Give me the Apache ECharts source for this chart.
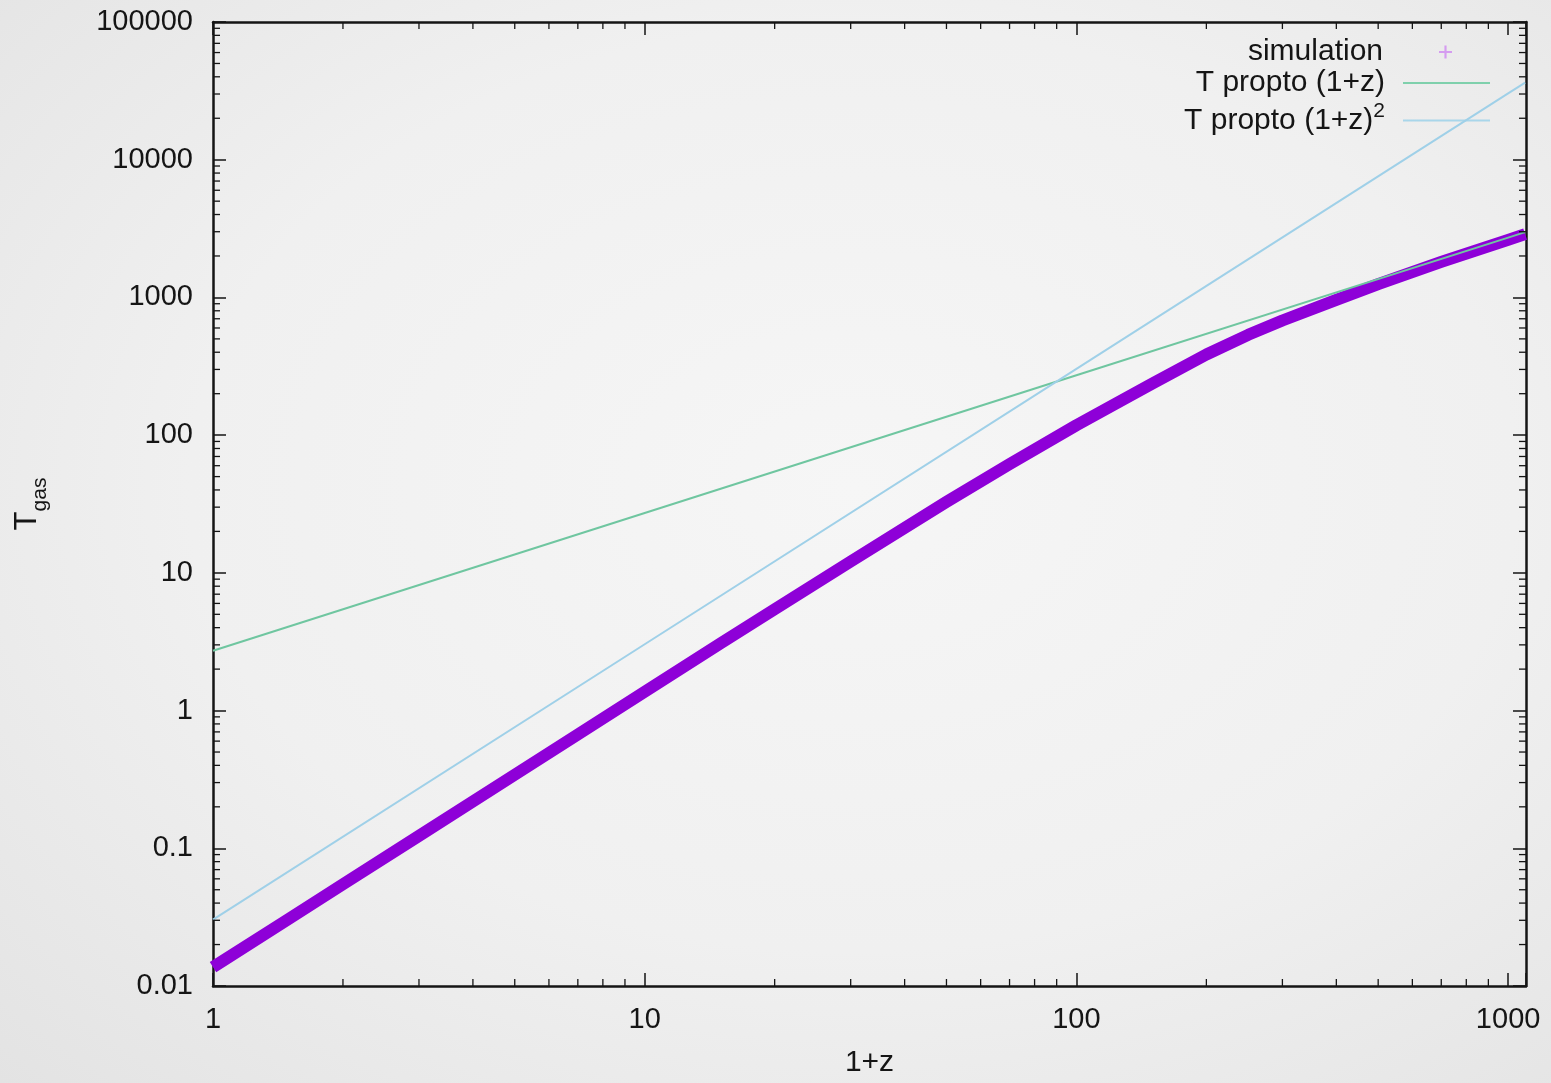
<!DOCTYPE html>
<html>
<head>
<meta charset="utf-8">
<script src="https://cdn.jsdelivr.net/npm/echarts@6/dist/echarts.min.js"></script>
<style>
html,body{margin:0;padding:0;width:1551px;height:1083px;overflow:hidden;}
#c{width:1551px;height:1083px;background:radial-gradient(ellipse at 55% 45%, #f6f6f6 0%, #f0f0f0 55%, #e3e3e3 100%);}
</style>
</head>
<body>
<div id="c"></div>
<script>
// ---- data ----
const simX = [1, 1.5, 2, 3, 5, 7, 10, 15, 20, 30, 50, 70, 100, 125, 150, 200, 250, 300, 400, 500, 700, 1000, 1095];
const simT = [0.0137, 0.0308, 0.0548, 0.123, 0.342, 0.67, 1.37, 3.08, 5.44, 12.1, 32.8, 61.5, 118, 173, 237, 385, 535, 680, 960, 1250, 1810, 2620, 2880];
const linX = [1, 10, 100, 1000, 1095];
const linT = [2.72, 27.2, 272, 2720, 2980];
const quadX = [1, 10, 100, 1000, 1095];
const quadT = [0.0303, 3.03, 303, 30300, 36300];
const xTickLabels = ['1', '10', '100', '1000'];
const yTickLabels = ['0.01', '0.1', '1', '10', '100', '1000', '10000', '100000'];
const xMinorTicks = [2,3,4,5,6,7,8,9,20,30,40,50,60,70,80,90,200,300,400,500,600,700,800,900];
const yMinorTicks = [0.02,0.03,0.04,0.05,0.06,0.07,0.08,0.09,
  0.2,0.3,0.4,0.5,0.6,0.7,0.8,0.9,
  2,3,4,5,6,7,8,9, 20,30,40,50,60,70,80,90,
  200,300,400,500,600,700,800,900, 2000,3000,4000,5000,6000,7000,8000,9000,
  20000,30000,40000,50000,60000,70000,80000,90000];
const seriesNames = ['simulation', 'T propto (1+z)', 'T propto (1+z)2'];

const FONT = 'Liberation Sans, Arial, Helvetica, sans-serif';
const INK = '#151515';
function zip(a, b) { return a.map((v, i) => [v, b[i]]); }
function decadeLabel(labels, offset) {
  return function (v) {
    const e = Math.log10(v);
    const r = Math.round(e);
    if (Math.abs(e - r) > 1e-6) return '';
    return labels[r + offset] || '';
  };
}

const chart = echarts.init(document.getElementById('c'), null, {renderer: 'canvas'});
const axisLineStyle = {show: true, onZero: false, lineStyle: {color: INK, width: 2.5}};
const majorTick = {show: true, inside: true, length: 13, lineStyle: {color: INK, width: 1.5}};

function minorTickSeries(values, isX) {
  return {
    type: 'custom',
    silent: true,
    xAxisIndex: 0, yAxisIndex: 0,
    z: 10,
    clip: false,
    data: values.map(v => isX ? [v, 1] : [1, v]),
    renderItem: function (params, api) {
      const cs = params.coordSys;
      const p = api.coord([api.value(0), api.value(1)]);
      const st = {stroke: INK, lineWidth: 1.3};
      const L = 7;
      if (isX) {
        const x = p[0], yb = cs.y + cs.height, yt = cs.y;
        return {type: 'group', children: [
          {type: 'line', shape: {x1: x, y1: yb, x2: x, y2: yb - L}, style: st},
          {type: 'line', shape: {x1: x, y1: yt, x2: x, y2: yt + L}, style: st}
        ]};
      } else {
        const y = p[1], xl = cs.x, xr = cs.x + cs.width;
        return {type: 'group', children: [
          {type: 'line', shape: {x1: xl, y1: y, x2: xl + L, y2: y}, style: st},
          {type: 'line', shape: {x1: xr, y1: y, x2: xr - L, y2: y}, style: st}
        ]};
      }
    }
  };
}

const legendText = {fontFamily: FONT, fontSize: 30, color: INK};
const plusIcon = 'path://M5,0 L7,0 L7,5 L12,5 L12,7 L7,7 L7,12 L5,12 L5,7 L0,7 L0,5 L5,5 Z';

const option = {
  backgroundColor: 'transparent',
  animation: false,
  grid: {left: 213, right: 25, top: 22, bottom: 95, containLabel: false},
  legend: [
    {
      right: 99, top: 37, orient: 'vertical', align: 'right', padding: 0,
      itemWidth: 13, itemHeight: 13,
      data: [{name: seriesNames[0], icon: plusIcon, itemStyle: {color: '#d59cf0'}}],
      textStyle: Object.assign({padding: [0, 51, 0, 0]}, legendText),
      selectedMode: false
    },
    {
      right: 61, top: 68, orient: 'vertical', align: 'right', padding: 0,
      itemWidth: 87, itemHeight: 14,
      data: [{name: seriesNames[1], icon: 'path://M0,6 L87,6 L87,8 L0,8 Z', itemStyle: {color: '#7fd0ac'}}],
      textStyle: Object.assign({padding: [0, 13, 0, 0]}, legendText),
      selectedMode: false
    },
    {
      right: 61, top: 101, orient: 'vertical', align: 'right', padding: 0,
      itemWidth: 87, itemHeight: 14,
      data: [{name: seriesNames[2], icon: 'path://M0,6 L87,6 L87,8 L0,8 Z', itemStyle: {color: '#a9d6ea'}}],
      formatter: function () { return 'T propto (1+z){sup|2}'; },
      textStyle: Object.assign({padding: [0, 13, 0, 0], rich: {sup: {fontFamily: FONT, fontSize: 21, color: INK, padding: [0, 0, 18, 0]}}}, legendText),
      selectedMode: false
    }
  ],
  xAxis: [
    {
      type: 'log', logBase: 10, min: 1, max: 1100, interval: 1, position: 'bottom',
      axisLine: axisLineStyle, axisTick: majorTick,
      splitLine: {show: false},
      axisLabel: {fontFamily: FONT, fontSize: 29, color: INK, margin: 19, formatter: decadeLabel(xTickLabels, 0), showMinLabel: true, showMaxLabel: true},
      name: '1+z', nameLocation: 'middle', nameGap: 62,
      nameTextStyle: {fontFamily: FONT, fontSize: 30, color: INK}
    },
    {
      type: 'log', logBase: 10, min: 1, max: 1100, interval: 1, position: 'top',
      axisLine: axisLineStyle, axisTick: majorTick,
      splitLine: {show: false}, axisLabel: {show: false}
    }
  ],
  yAxis: [
    {
      type: 'log', logBase: 10, min: 0.01, max: 100000, interval: 1, position: 'left',
      axisLine: axisLineStyle, axisTick: majorTick,
      splitLine: {show: false},
      axisLabel: {fontFamily: FONT, fontSize: 29, color: INK, margin: 20, formatter: decadeLabel(yTickLabels, 2), showMinLabel: true, showMaxLabel: true},
      name: 'T{sub|gas}', nameLocation: 'middle', nameGap: 162, nameRotate: 90,
      nameTextStyle: {fontFamily: FONT, fontSize: 31, color: INK,
        rich: {sub: {fontFamily: FONT, fontSize: 21, color: INK, padding: [27, 0, 0, 0]}}}
    },
    {
      type: 'log', logBase: 10, min: 0.01, max: 100000, interval: 1, position: 'right',
      axisLine: axisLineStyle, axisTick: majorTick,
      splitLine: {show: false}, axisLabel: {show: false}
    }
  ],
  series: [
    {
      name: seriesNames[0], type: 'line', xAxisIndex: 0, yAxisIndex: 0,
      data: zip(simX, simT), symbol: 'none', smooth: false, clip: false, z: 3,
      lineStyle: {color: '#8e00d8', width: 12, cap: 'butt', join: 'round'},
      itemStyle: {color: '#8e00d8'}
    },
    {
      name: seriesNames[1], type: 'line', xAxisIndex: 0, yAxisIndex: 0,
      data: zip(linX, linT), symbol: 'none', z: 4,
      lineStyle: {color: '#6fc6a0', width: 2},
      itemStyle: {color: '#6fc6a0'}
    },
    {
      name: seriesNames[2], type: 'line', xAxisIndex: 0, yAxisIndex: 0,
      data: zip(quadX, quadT), symbol: 'none', z: 5,
      lineStyle: {color: '#9fd0e8', width: 2},
      itemStyle: {color: '#9fd0e8'}
    },
    minorTickSeries(xMinorTicks, true),
    minorTickSeries(yMinorTicks, false)
  ]
};
chart.setOption(option);
</script>
</body>
</html>
